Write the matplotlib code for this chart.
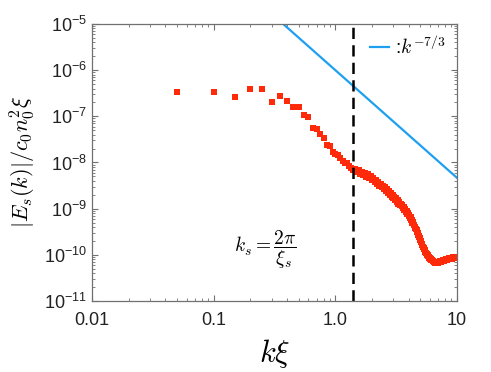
import numpy as np
import matplotlib
matplotlib.use('Agg')
from matplotlib import pyplot as plt
from matplotlib.ticker import FixedLocator, LogLocator, NullFormatter

plt.rcParams['mathtext.fontset'] = 'cm'
plt.rcParams['font.family'] = ['Liberation Sans', 'DejaVu Sans']

# k*xi grid of the spectrum (step 0.05)
k_xi = np.round(np.arange(1, 201) * 0.05, 2)

# log10 |E_s(k)| / c0 n0^2 xi
log_Es = [
    -6.47, -6.48, -6.58, -6.41, -6.41, -6.69, -6.57, -6.66, -6.79, -6.79,
    -6.97, -7.02, -7.26, -7.28, -7.39, -7.47, -7.62, -7.65, -7.78, -7.82,
    -7.84, -7.91, -7.97, -8.01, -8.02, -8.08, -8.13, -8.17,
    -8.15, -8.21, -8.16, -8.24, -8.20, -8.28, -8.23, -8.31, -8.26, -8.34,
    -8.29, -8.38, -8.33, -8.43, -8.38, -8.47, -8.42, -8.51, -8.46, -8.54,
    -8.51, -8.58, -8.54, -8.62, -8.58, -8.66, -8.62, -8.70, -8.66, -8.74,
    -8.70, -8.77, -8.74, -8.81, -8.77, -8.85, -8.81, -8.89, -8.85, -8.92,
    -8.89, -8.95, -8.93, -8.99, -8.97, -9.03, -9.01, -9.07, -9.05, -9.12,
    -9.10, -9.16, -9.14, -9.20, -9.19, -9.25, -9.24, -9.30, -9.29, -9.36,
    -9.36, -9.39, -9.42, -9.44, -9.47, -9.50, -9.53, -9.56, -9.59, -9.61,
    -9.64, -9.67, -9.70, -9.73, -9.76, -9.79, -9.82, -9.84, -9.86, -9.88,
    -9.90, -9.93, -9.95, -9.97, -9.98, -10.00, -10.01, -10.03, -10.04, -10.06,
    -10.07, -10.08, -10.09, -10.10, -10.11, -10.12, -10.12, -10.13, -10.14, -10.14,
    -10.15, -10.16, -10.15, -10.17, -10.16, -10.17, -10.16, -10.18, -10.16, -10.17,
    -10.16, -10.17, -10.15, -10.16, -10.15, -10.16, -10.14, -10.15, -10.14, -10.15,
    -10.13, -10.14, -10.13, -10.14, -10.12, -10.13, -10.12, -10.13, -10.11, -10.12,
    -10.11, -10.12, -10.10, -10.11, -10.10, -10.11, -10.09, -10.10, -10.09, -10.10,
    -10.08, -10.09, -10.08, -10.09, -10.07, -10.08, -10.07, -10.08, -10.07, -10.08,
    -10.06, -10.08, -10.07, -10.08, -10.06, -10.07, -10.06, -10.07, -10.05, -10.07,
    -10.06, -10.07, -10.05, -10.06, -10.05, -10.07, -10.05, -10.06, -10.04, -10.06,
    -10.04, -10.05,
]
Es = 10.0 ** np.array(log_Es)

# power law reference k^(-7/3)
amp_ref = 1e-6
k_ref = np.array([0.01, 10.0])
ks_line = 1.4

x_ticks = [0.01, 0.1, 1.0, 10]
x_labels = ['0.01', '0.1', '1.0', '10']
y_exps = [-11, -10, -9, -8, -7, -6, -5]

fig = plt.figure(figsize=(4.91, 3.72), dpi=100)
ax = fig.add_axes([0.1874, 0.1909, 0.7434, 0.7446])

ax.plot(k_xi, Es, 's', color='#ff2a0a', markersize=3.9, markeredgewidth=0)
ax.plot(k_ref, amp_ref * k_ref ** (-7 / 3), color='#1ea0f0', lw=1.6,
        label=r':$k^{-7/3}$')
ax.axvline(ks_line, color='black', lw=1.8, dashes=(4.5, 2.5))

ax.set_xscale('log')
ax.set_yscale('log')
ax.set_xlim(0.01, 10)
ax.set_ylim(1e-11, 1e-5)

ax.xaxis.set_major_locator(FixedLocator(x_ticks))
ax.set_xticklabels(x_labels)
ax.set_yticks([10.0 ** e for e in y_exps])
ax.set_yticklabels([r'$\mathregular{10^{%d}}$' % e for e in y_exps])
ax.xaxis.set_minor_locator(LogLocator(base=10, subs=np.arange(2, 10), numticks=20))
ax.yaxis.set_minor_locator(LogLocator(base=10, subs=np.arange(2, 10), numticks=20))
ax.xaxis.set_minor_formatter(NullFormatter())
ax.yaxis.set_minor_formatter(NullFormatter())

ax.tick_params(which='both', direction='in', top=True, right=True,
               colors='#707070', labelcolor='#222222', labelsize=13)
ax.tick_params(which='major', length=4, width=0.8)
ax.tick_params(which='minor', length=2, width=0.6)
ax.tick_params(axis='x', pad=8)
for s in ax.spines.values():
    s.set_color('#707070')
    s.set_linewidth(0.9)

ax.set_xlabel(r'$k\xi$', fontsize=22, labelpad=6)
ax.set_ylabel(r'$|E_s(k)|/c_0 n_0^2 \xi$', fontsize=16, labelpad=4)

ax.text(0.148, 10 ** -9.9, r'$k_s = \dfrac{2\pi}{\xi_s}$', fontsize=14,
        ha='left', va='center')

ax.legend(loc='upper right', frameon=False, fontsize=14, handlelength=1.0,
          handletextpad=0.3, borderaxespad=0.2)

fig.savefig('out.png', dpi=100)
